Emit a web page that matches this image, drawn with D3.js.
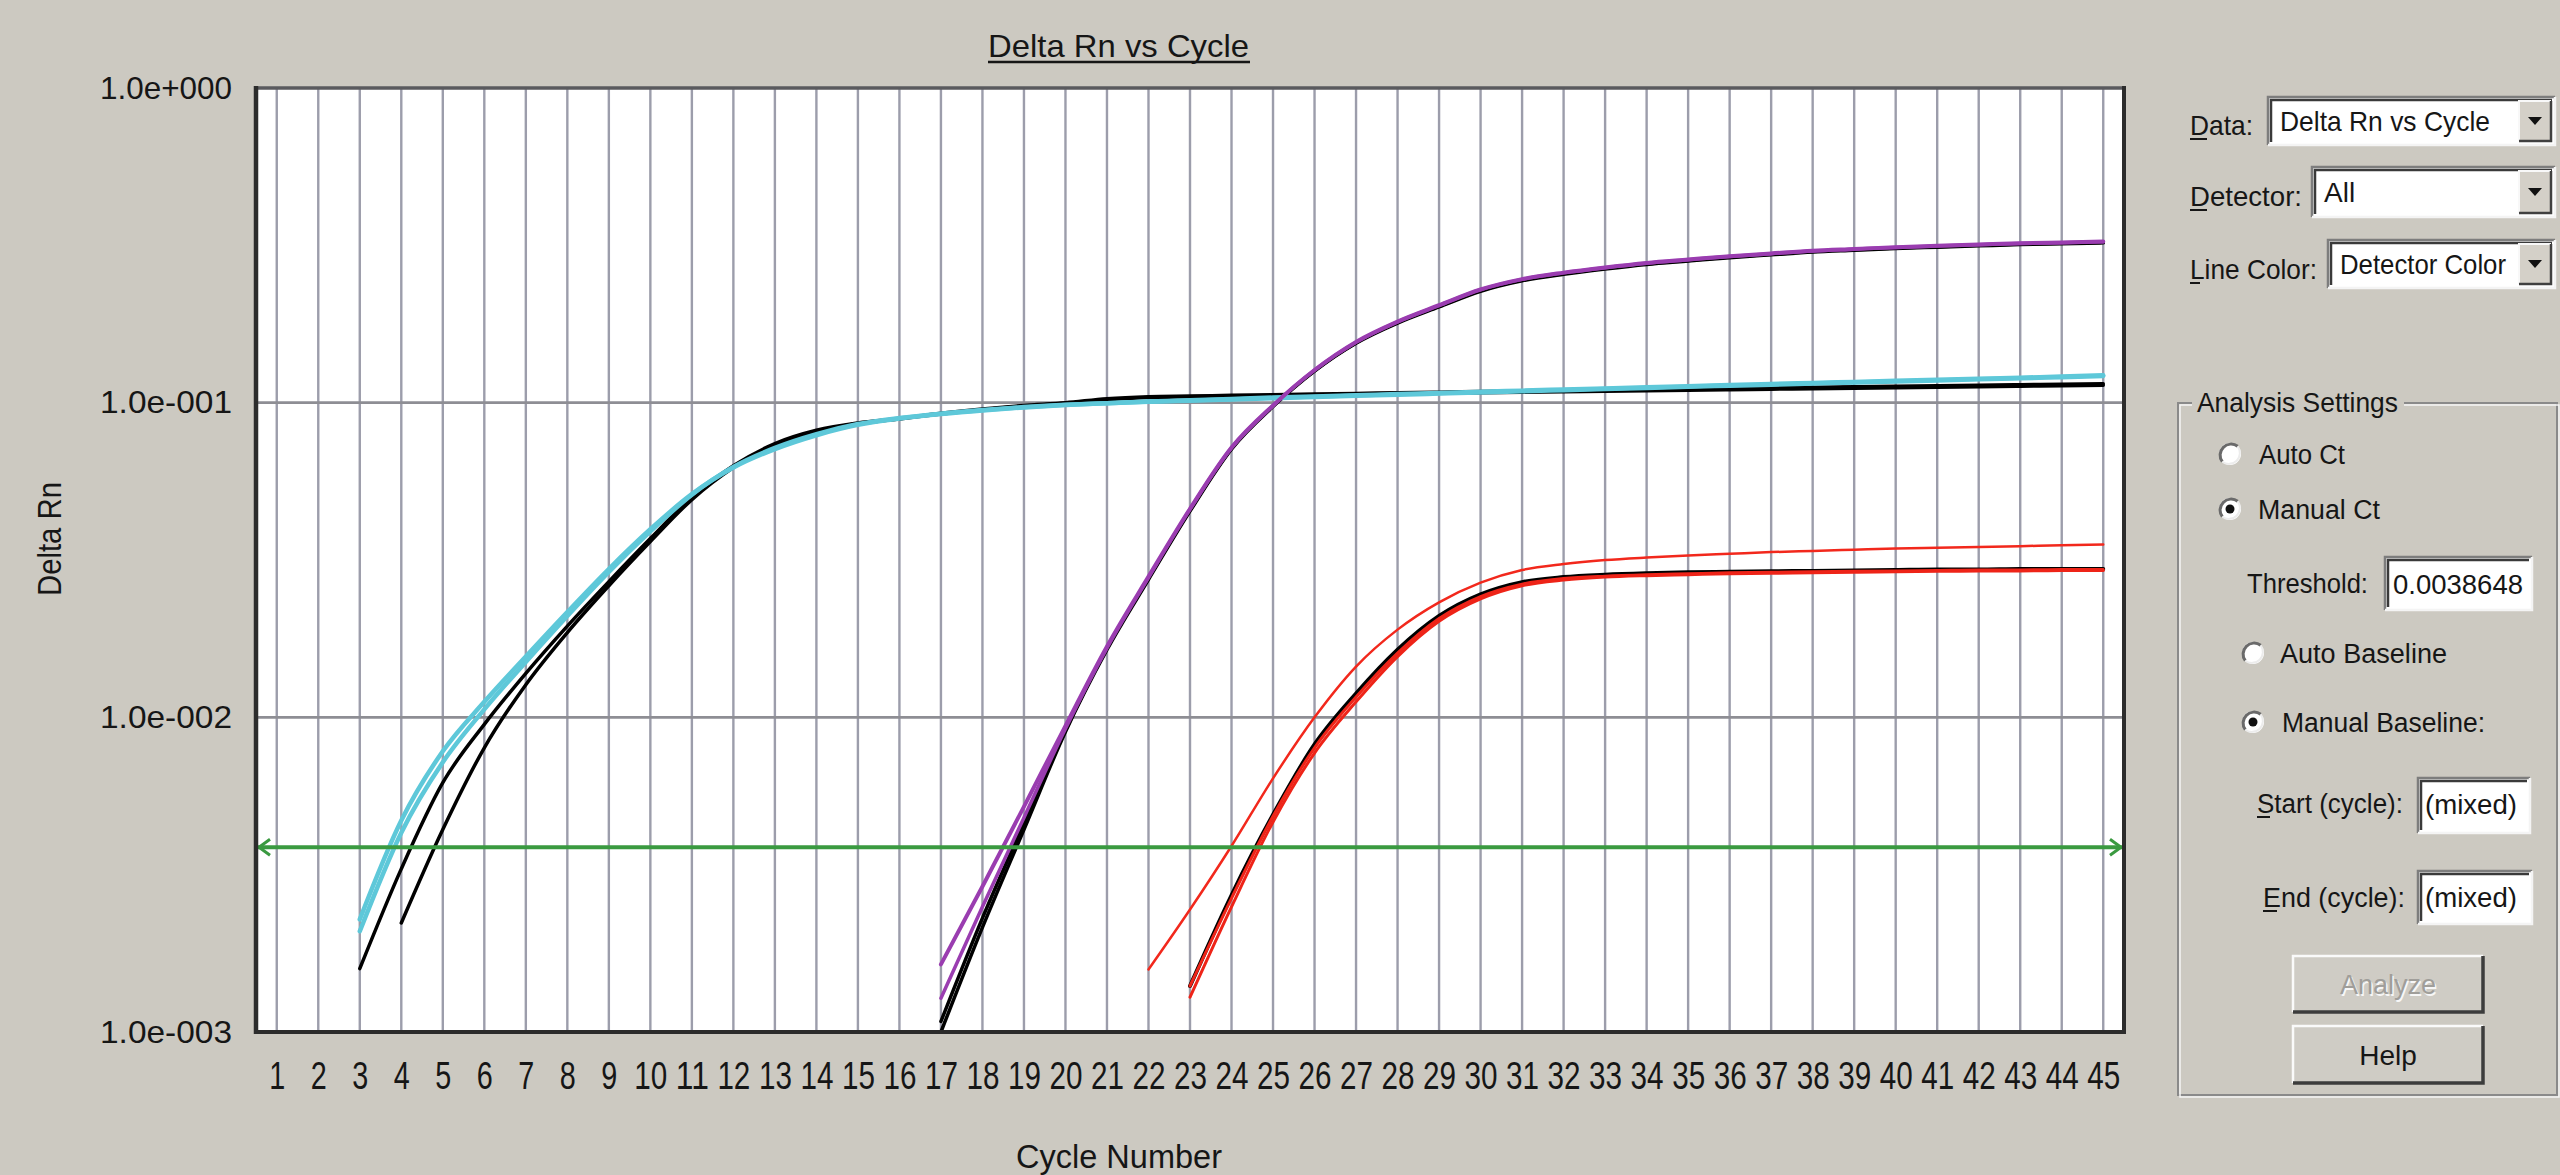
<!DOCTYPE html>
<html><head><meta charset="utf-8">
<script src="https://cdn.jsdelivr.net/npm/d3@7"></script>
<style>
body{margin:0;background:#ccc9c1;}
svg{display:block;font-family:"Liberation Sans",Arial,sans-serif;}
</style>
</head><body><svg id="c" width="2560" height="1175"></svg>
<script>
// ---------------- DATA ----------------
const cycles = [1,2,3,4,5,6,7,8,9,10,11,12,13,14,15,16,17,18,19,20,21,22,23,24,25,26,27,28,29,30,31,32,33,34,35,36,37,38,39,40,41,42,43,44,45];
const yTicks = [0.001, 0.01, 0.1, 1];
const yTickLabels = ["1.0e-003", "1.0e-002", "1.0e-001", "1.0e+000"];
const threshold = 0.0038648;

const cyan1Start = 3;
const cyan1 = [0.00209,0.0043,0.0072,0.0106,0.0150,0.0210,0.0290,0.0390,0.0510,0.0625,0.0718,0.0794,0.0855,0.0894,0.0923,0.0947,0.0968,0.0984,0.0996,0.1006,0.1015,0.1024,0.1033,0.1042,0.1051,0.1060,0.1069,0.1078,0.1087,0.1096,0.1105,0.1114,0.1123,0.1132,0.1141,0.1150,0.1159,0.1168,0.1177,0.1186,0.1195,0.1205,0.1215];
const cyan2Start = 3;
const cyan2 = [0.00228,0.0047,0.0078,0.0112,0.0156,0.0216,0.0296,0.0396,0.0512,0.0622,0.0712,0.0788,0.0850,0.0890,0.0920,0.0945,0.0966,0.0983,0.0996,0.1008,0.1018,0.1028,0.1038,0.1047,0.1056,0.1065,0.1074,0.1083,0.1092,0.1101,0.1110,0.1119,0.1128,0.1137,0.1146,0.1155,0.1164,0.1173,0.1182,0.1191,0.1200,0.1210,0.1222];
const blackA1Start = 3;
const blackA1 = [0.00159,0.0033,0.0062,0.0095,0.0138,0.0195,0.0270,0.0370,0.0500,0.0630,0.0741,0.0817,0.0862,0.0890,0.0925,0.0955,0.0980,0.1000,0.1030,0.1045,0.1050,0.1055,0.1060,0.1065,0.1070,0.1075,0.1080,0.1085,0.1090,0.1095,0.1100,0.1104,0.1108,0.1112,0.1116,0.1120,0.1124,0.1128,0.1132,0.1136,0.1140,0.1144,0.1148];
const blackA2Start = 4;
const blackA2 = [0.00222,0.0044,0.0080,0.0127,0.0186,0.0262,0.0362,0.0492,0.0622,0.0735,0.0810,0.0858,0.0888,0.0920,0.0950,0.0975,0.0995,0.1022,0.1038,0.1044,0.1049,0.1054,0.1059,0.1064,0.1068,0.1072,0.1076,0.1080,0.1084,0.1088,0.1092,0.1096,0.1100,0.1104,0.1108,0.1112,0.1116,0.1120,0.1124,0.1128,0.1132,0.1136];

const purple1Start = 17;
const purple1 = [0.00164,0.0029,0.0052,0.0094,0.0168,0.0280,0.0460,0.0720,0.0980,0.1270,0.1560,0.1810,0.2040,0.2290,0.2470,0.2590,0.2690,0.2780,0.2850,0.2920,0.2980,0.3040,0.3080,0.3120,0.3150,0.3180,0.3210,0.3230,0.3250];
const purple2Start = 17;
const purple2 = [0.00128,0.0025,0.0048,0.0092,0.0166,0.0278,0.0458,0.0718,0.0978,0.1268,0.1555,0.1805,0.2035,0.2285,0.2465,0.2585,0.2685,0.2775,0.2845,0.2915,0.2975,0.3035,0.3075,0.3115,0.3145,0.3175,0.3205,0.3225,0.3245];
const blackB1Start = 17;
const blackB1 = [0.00100,0.00215,0.0044,0.0090,0.0164,0.0274,0.0452,0.0712,0.0972,0.1260,0.1545,0.1790,0.2015,0.2260,0.2440,0.2560,0.2660,0.2750,0.2820,0.2890,0.2950,0.3010,0.3050,0.3090,0.3120,0.3150,0.3180,0.3200,0.3220];
const blackB2Start = 17;
const blackB2 = [0.00108,0.0023,0.0046,0.0091,0.0166,0.0277,0.0456,0.0716,0.0976,0.1265,0.1550,0.1798,0.2025,0.2272,0.2452,0.2572,0.2672,0.2762,0.2832,0.2902,0.2962,0.3022,0.3062,0.3102,0.3132,0.3162,0.3192,0.3212,0.3232];

const red1Start = 22;
const red1 = [0.00158,0.00245,0.0039,0.0064,0.0100,0.0145,0.0190,0.0232,0.0268,0.0294,0.0307,0.0316,0.0322,0.0327,0.0331,0.0335,0.0338,0.0341,0.0344,0.0346,0.0348,0.0350,0.0352,0.0354];
const red2Start = 23;
const red2 = [0.00140,0.00266,0.00485,0.0080,0.0116,0.0160,0.0206,0.0242,0.0265,0.0276,0.0281,0.0284,0.0286,0.0288,0.0289,0.0290,0.0291,0.0292,0.0293,0.0294,0.0294,0.0295,0.0295];
const red3Start = 23;
const red3 = [0.00129,0.00250,0.00465,0.0077,0.0112,0.0156,0.0202,0.0238,0.0262,0.0273,0.0279,0.0282,0.0284,0.0286,0.0287,0.0288,0.0289,0.0290,0.0291,0.0292,0.0292,0.0293,0.0293];
const blackC1Start = 23;
const blackC1 = [0.00140,0.00272,0.0049,0.0082,0.0119,0.0164,0.0210,0.0246,0.0269,0.0279,0.0284,0.0287,0.0289,0.0290,0.0291,0.0292,0.0293,0.0294,0.0295,0.0295,0.0296,0.0296,0.0296];

// ---------------- CHART ----------------
const svg = d3.select("#c");
const BG = "#ccc9c1";
const INK = "#161616";
svg.append("rect").attr("width",2560).attr("height",1175).attr("fill",BG);

const X0 = 256, X1 = 2124, Y0 = 88, Y1 = 1032;
const x = d3.scaleLinear().domain([0.5, 45.5]).range([X0, X1]);
const y = d3.scaleLog().domain([1e-3, 1]).range([Y1, Y0]);

svg.append("rect").attr("x",X0).attr("y",Y0).attr("width",X1-X0).attr("height",Y1-Y0).attr("fill","#ffffff");

// gridlines
svg.append("g").selectAll("line").data(cycles).join("line")
  .attr("x1",d=>x(d)).attr("x2",d=>x(d)).attr("y1",Y0).attr("y2",Y1)
  .attr("stroke","#9c9dab").attr("stroke-width",2.4);
svg.append("g").selectAll("line").data(yTicks.slice(1,3)).join("line")
  .attr("x1",X0).attr("x2",X1).attr("y1",d=>y(d)).attr("y2",d=>y(d))
  .attr("stroke","#8e8e94").attr("stroke-width",2.6);

// series
const makePts = (start, arr) => arr.map((v,i)=>[start+i, v]);
const line = d3.line().x(d=>x(d[0])).y(d=>y(d[1])).curve(d3.curveMonotoneX);
const series = [
  {pts: makePts(blackA1Start, blackA1), c:"#000", w:3.5},
  {pts: makePts(blackA2Start, blackA2), c:"#000", w:3.5},
  {pts: makePts(blackB1Start, blackB1), c:"#000", w:3.5},
  {pts: makePts(blackB2Start, blackB2), c:"#000", w:3.5},
  {pts: makePts(blackC1Start, blackC1), c:"#000", w:4},
  {pts: makePts(cyan1Start, cyan1), c:"#5ec8d9", w:4.5},
  {pts: makePts(cyan2Start, cyan2), c:"#5ec8d9", w:4.5},
  {pts: makePts(purple2Start, purple2), c:"#9a3db0", w:3.5},
  {pts: makePts(purple1Start, purple1), c:"#9a3db0", w:4},
  {pts: makePts(red3Start, red3), c:"#ee2418", w:3},
  {pts: makePts(red2Start, red2), c:"#ee2418", w:3},
  {pts: makePts(red1Start, red1), c:"#f2281c", w:2.5}
];
svg.append("g").selectAll("path").data(series).join("path")
  .attr("d",d=>line(d.pts)).attr("fill","none")
  .attr("stroke",d=>d.c).attr("stroke-width",d=>d.w)
  .attr("stroke-linejoin","round").attr("stroke-linecap","round");

// threshold
const ty = y(threshold);
const G = "#3a9a40";
svg.append("line").attr("x1",X0+2).attr("x2",X1-2).attr("y1",ty).attr("y2",ty).attr("stroke",G).attr("stroke-width",4);
svg.append("path").attr("d",`M${X0+14},${ty-8} L${X0+3},${ty} L${X0+14},${ty+8}`).attr("fill","none").attr("stroke",G).attr("stroke-width",3);
svg.append("path").attr("d",`M${X1-14},${ty-8} L${X1-3},${ty} L${X1-14},${ty+8}`).attr("fill","none").attr("stroke",G).attr("stroke-width",3);

// frame
svg.append("line").attr("x1",X0).attr("x2",X1).attr("y1",Y0).attr("y2",Y0).attr("stroke","#5a5a5e").attr("stroke-width",3.5);
svg.append("line").attr("x1",X0).attr("x2",X0).attr("y1",Y0-2).attr("y2",Y1+2).attr("stroke","#2c2c2c").attr("stroke-width",4.5);
svg.append("line").attr("x1",X1).attr("x2",X1).attr("y1",Y0-2).attr("y2",Y1+2).attr("stroke","#2c2c2c").attr("stroke-width",4);
svg.append("line").attr("x1",X0).attr("x2",X1).attr("y1",Y1).attr("y2",Y1).attr("stroke","#2c2c2c").attr("stroke-width",4);

// axes
const xAxis = d3.axisBottom(x).tickValues(cycles).tickSize(0).tickPadding(30).tickFormat(d=>String(d));
const gx = svg.append("g").attr("transform",`translate(0,${Y1})`).call(xAxis);
gx.select(".domain").remove();
gx.selectAll("text").attr("font-size",38).attr("fill",INK).attr("font-family","Liberation Sans, Arial, sans-serif")
  .attr("textLength",d=>String(d).length===1?16:33).attr("lengthAdjust","spacingAndGlyphs");

const yAxis = d3.axisLeft(y).tickValues(yTicks).tickSize(0).tickPadding(24).tickFormat((d,i)=>yTickLabels[i]);
const gy = svg.append("g").attr("transform",`translate(${X0},0)`).call(yAxis);
gy.select(".domain").remove();
gy.selectAll("text").attr("font-size",32).attr("fill",INK).attr("font-family","Liberation Sans, Arial, sans-serif")
  .attr("textLength",132).attr("lengthAdjust","spacingAndGlyphs");

// titles
function T(s, xx, yy, o={}) {
  const t = svg.append("text").attr("x",xx).attr("y",yy).text(s)
    .attr("font-size",o.size||27).attr("fill",o.fill||INK)
    .attr("text-anchor",o.anchor||"start");
  if (o.len) t.attr("textLength",o.len).attr("lengthAdjust","spacingAndGlyphs");
  if (o.rot) t.attr("transform",`rotate(${o.rot},${xx},${yy})`);
  return t;
}
T("Delta Rn vs Cycle", 988, 57, {size:32, len:261});
svg.append("line").attr("x1",988).attr("x2",1250).attr("y1",62).attr("y2",62).attr("stroke",INK).attr("stroke-width",2.5);
T("Cycle Number", 1016, 1168, {size:34, len:206});
T("Delta Rn", 61, 539, {size:33, len:114, anchor:"middle", rot:-90});

// ---------------- RIGHT PANEL ----------------
function underline(x1, x2, yy){ svg.append("line").attr("x1",x1).attr("x2",x2).attr("y1",yy).attr("y2",yy).attr("stroke",INK).attr("stroke-width",2); }
function sunken(xx, yy, w, h) {
  svg.append("rect").attr("x",xx).attr("y",yy).attr("width",w).attr("height",h).attr("fill","#fff");
  svg.append("path").attr("d",`M${xx},${yy+h} V${yy} H${xx+w}`).attr("fill","none").attr("stroke","#7d7d7d").attr("stroke-width",2.5);
  svg.append("path").attr("d",`M${xx+3},${yy+h-3} V${yy+3} H${xx+w-3}`).attr("fill","none").attr("stroke","#3a3a3a").attr("stroke-width",2.5);
  svg.append("path").attr("d",`M${xx},${yy+h} H${xx+w} V${yy}`).attr("fill","none").attr("stroke","#f4f4f4").attr("stroke-width",2.5);
}
function arrowBtn(xx, yy, w, h) {
  svg.append("rect").attr("x",xx).attr("y",yy).attr("width",w).attr("height",h).attr("fill","#d4d0c8");
  svg.append("path").attr("d",`M${xx},${yy+h} V${yy} H${xx+w}`).attr("fill","none").attr("stroke","#f8f8f8").attr("stroke-width",2);
  svg.append("path").attr("d",`M${xx},${yy+h} H${xx+w} V${yy}`).attr("fill","none").attr("stroke","#404040").attr("stroke-width",2.5);
  const cx = xx + w/2, cy = yy + h/2;
  svg.append("path").attr("d",`M${cx-7},${cy-4} L${cx+7},${cy-4} L${cx},${cy+4} Z`).attr("fill","#111");
}
function combo(xx, yy, w, h, label, len) {
  sunken(xx, yy, w, h);
  arrowBtn(xx+w-36, yy+4, 32, h-8);
  T(label, xx+12, yy+h/2+10, {size:28, len:len});
}
T("Data:", 2190, 135, {size:28, len:63}); underline(2190, 2207, 139);
combo(2268, 97, 287, 48, "Delta Rn vs Cycle", 210);
T("Detector:", 2190, 206, {size:28, len:112}); underline(2190, 2207, 210);
combo(2312, 167, 243, 50, "All");
T("Line Color:", 2190, 279, {size:28, len:127}); underline(2190, 2200, 283);
combo(2328, 240, 227, 48, "Detector Color", 166);

// group box
const gbx = 2178, gby = 403, gbw = 379, gbh = 692;
svg.append("rect").attr("x",gbx).attr("y",gby).attr("width",gbw).attr("height",gbh).attr("fill","none").attr("stroke","#8a8a8a").attr("stroke-width",2);
svg.append("rect").attr("x",gbx+2).attr("y",gby+2).attr("width",gbw).attr("height",gbh).attr("fill","none").attr("stroke","#f5f5f5").attr("stroke-width",1.5);
svg.append("rect").attr("x",2192).attr("y",390).attr("width",212).attr("height",28).attr("fill",BG);
T("Analysis Settings", 2197, 412, {size:28, len:201});

function radio(cx, cy, checked) {
  svg.append("circle").attr("cx",cx).attr("cy",cy).attr("r",11).attr("fill","#fff");
  const r = 11;
  svg.append("path").attr("d",`M${cx-r*0.7},${cy+r*0.7} A${r},${r} 0 0 1 ${cx+r*0.7},${cy-r*0.7}`).attr("fill","none").attr("stroke","#6a6a6a").attr("stroke-width",3);
  svg.append("path").attr("d",`M${cx+r*0.7},${cy-r*0.7} A${r},${r} 0 0 1 ${cx-r*0.7},${cy+r*0.7}`).attr("fill","none").attr("stroke","#ececec").attr("stroke-width",2);
  if (checked) svg.append("circle").attr("cx",cx).attr("cy",cy).attr("r",4.5).attr("fill","#111");
}
radio(2230, 454, false); T("Auto Ct", 2259, 464, {size:27, len:86});
radio(2230, 509, true); T("Manual Ct", 2258, 519, {size:27, len:122});
T("Threshold:", 2247, 593, {size:27, len:121});
sunken(2385, 557, 147, 53); T("0.0038648", 2393, 594, {size:27, len:130});
radio(2253, 653, false); T("Auto Baseline", 2280, 663, {size:27, len:167});
radio(2253, 722, true); T("Manual Baseline:", 2282, 732, {size:27, len:203});
T("Start (cycle):", 2257, 813, {size:27, len:146}); underline(2257, 2270, 817);
sunken(2418, 778, 112, 55); T("(mixed)", 2425, 814, {size:27, len:92});
T("End (cycle):", 2263, 907, {size:27, len:142}); underline(2263, 2277, 911);
sunken(2418, 871, 114, 53); T("(mixed)", 2425, 907, {size:27, len:92});

function button(xx, yy, w, h, label, disabled) {
  svg.append("rect").attr("x",xx).attr("y",yy).attr("width",w).attr("height",h).attr("fill","#cfccc5");
  svg.append("path").attr("d",`M${xx},${yy+h} V${yy} H${xx+w}`).attr("fill","none").attr("stroke","#fafafa").attr("stroke-width",2.5);
  svg.append("path").attr("d",`M${xx},${yy+h} H${xx+w} V${yy}`).attr("fill","none").attr("stroke","#3c3c3c").attr("stroke-width",3.5);
  if (disabled) {
    T(label, xx+w/2+1.5, yy+h/2+11.5, {size:27, anchor:"middle", fill:"#f7f7f7"});
    T(label, xx+w/2, yy+h/2+10, {size:27, anchor:"middle", fill:"#a09e9a"});
  } else {
    T(label, xx+w/2, yy+h/2+10, {size:28, anchor:"middle"});
  }
}
button(2293, 956, 190, 56, "Analyze", true);
button(2293, 1026, 190, 57, "Help", false);
</script>
</body></html>
